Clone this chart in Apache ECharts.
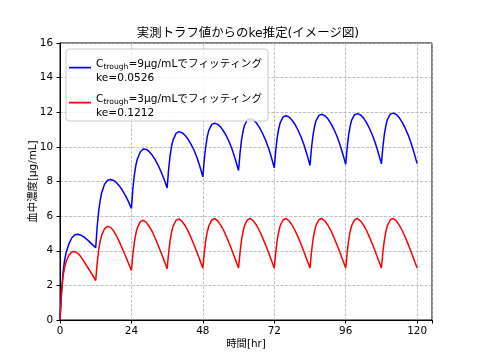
<!DOCTYPE html>
<html>
<head>
<meta charset="utf-8">
<script src="https://cdn.jsdelivr.net/npm/echarts@6/dist/echarts.min.js"></script>
<style>html,body{margin:0;padding:0;background:#fff;}#c{width:480px;height:360px;}</style>
</head>
<body>
<div id="c"></div>
<script>
// hours after each dose at which the concentrations below were read
var offsets = [0, 0.5, 1, 1.5, 2, 3, 4, 5, 6, 7, 8, 9, 10, 11];
var doseTimes = [0, 12, 24, 36, 48, 60, 72, 84, 96, 108];
var endTime = 120;
var xTicks = [0, 24, 48, 72, 96, 120];

// Ctrough = 9 ug/mL, ke = 0.0526 (blue)
var blueConc = [
  [0, 1.6, 2.7, 3.4, 3.85, 4.4, 4.75, 4.92, 4.95, 4.9, 4.8, 4.66, 4.5, 4.34],
  [4.17, 5.4, 6.3, 6.9, 7.35, 7.85, 8.07, 8.12, 8.06, 7.93, 7.73, 7.48, 7.18, 6.84],
  [6.45, 7.6, 8.4, 8.95, 9.3, 9.72, 9.88, 9.85, 9.72, 9.52, 9.25, 8.93, 8.55, 8.12],
  [7.63, 8.7, 9.5, 10.05, 10.4, 10.78, 10.88, 10.82, 10.67, 10.45, 10.16, 9.82, 9.4, 8.87],
  [8.27, 9.3, 10.05, 10.6, 10.95, 11.3, 11.36, 11.3, 11.14, 10.9, 10.6, 10.23, 9.78, 9.23],
  [8.64, 9.65, 10.4, 10.9, 11.25, 11.57, 11.63, 11.56, 11.38, 11.13, 10.8, 10.42, 9.97, 9.41],
  [8.79, 9.8, 10.55, 11.05, 11.4, 11.73, 11.8, 11.72, 11.54, 11.29, 10.96, 10.57, 10.11, 9.55],
  [8.93, 9.92, 10.65, 11.15, 11.5, 11.82, 11.88, 11.8, 11.62, 11.36, 11.03, 10.64, 10.17, 9.6],
  [8.99, 9.97, 10.7, 11.2, 11.55, 11.86, 11.92, 11.84, 11.66, 11.4, 11.06, 10.67, 10.2, 9.63],
  [9.02, 10.0, 10.73, 11.23, 11.58, 11.89, 11.95, 11.87, 11.69, 11.42, 11.08, 10.68, 10.21, 9.64]
];
var blueEnd = 9.03;

// Ctrough = 3 ug/mL, ke = 0.1212 (red)
var redConc = [
  [0, 1.5, 2.5, 3.0, 3.35, 3.75, 3.93, 3.95, 3.85, 3.65, 3.4, 3.12, 2.85, 2.57],
  [2.28, 3.3, 4.05, 4.55, 4.9, 5.28, 5.41, 5.35, 5.15, 4.85, 4.5, 4.1, 3.7, 3.28],
  [2.86, 3.8, 4.5, 5.0, 5.33, 5.68, 5.76, 5.64, 5.4, 5.1, 4.72, 4.3, 3.87, 3.42],
  [2.96, 3.88, 4.58, 5.08, 5.42, 5.76, 5.84, 5.7, 5.46, 5.15, 4.77, 4.35, 3.92, 3.46],
  [3.0, 3.92, 4.62, 5.1, 5.44, 5.78, 5.85, 5.72, 5.48, 5.17, 4.79, 4.37, 3.93, 3.47],
  [3.0, 3.92, 4.62, 5.1, 5.45, 5.78, 5.86, 5.72, 5.48, 5.17, 4.79, 4.37, 3.93, 3.47],
  [3.0, 3.92, 4.62, 5.1, 5.45, 5.79, 5.86, 5.72, 5.48, 5.17, 4.79, 4.37, 3.93, 3.47],
  [3.0, 3.92, 4.62, 5.1, 5.45, 5.79, 5.86, 5.72, 5.48, 5.17, 4.79, 4.37, 3.93, 3.47],
  [3.0, 3.92, 4.62, 5.1, 5.45, 5.79, 5.86, 5.72, 5.48, 5.17, 4.79, 4.37, 3.93, 3.47],
  [3.0, 3.92, 4.62, 5.1, 5.45, 5.79, 5.86, 5.72, 5.48, 5.17, 4.79, 4.37, 3.93, 3.47]
];
var redEnd = 3.0;

var titleText = '実測トラフ値からのke推定(イメージ図)';
var xName = '時間[hr]';
var yName = '血中濃度[μg/mL]';
var blueName = 'Ctrough=9μg/mLでフィッティング ke=0.0526';
var redName = 'Ctrough=3μg/mLでフィッティング ke=0.1212';
var blueLabel = '{n|C}{s|trough}{n|=9μg/mLでフィッティング}\n{n|ke=0.0526}';
var redLabel = '{n|C}{s|trough}{n|=3μg/mLでフィッティング}\n{n|ke=0.1212}';

function buildPairs(conc, endVal) {
  var out = [];
  for (var i = 0; i < doseTimes.length; i++) {
    for (var j = 0; j < offsets.length; j++) {
      out.push([doseTimes[i] + offsets[j], conc[i][j]]);
    }
  }
  out.push([endTime, endVal]);
  return out;
}

// legend handle: a thin line drawn a little above the middle of a 22x28 box
var handleIcon = 'path://M0,0L22,0L22,0Z M0,9.8L22,9.8L22,11.4L0,11.4Z M0,28L22,28L22,28Z';

var FONT = '"DejaVu Sans", "Noto Sans CJK JP", sans-serif';
var chart = echarts.init(document.getElementById('c'), null, {renderer: 'canvas'});
chart.setOption({
  animation: false,
  backgroundColor: '#fff',
  title: {
    text: titleText,
    left: 243, top: 23, textAlign: 'center',
    textStyle: {fontFamily: FONT, fontSize: 12.4, fontWeight: 'normal', color: '#000'}
  },
  grid: {left: 60, right: 48, top: 43, bottom: 40, show: true, borderColor: '#000', borderWidth: 1, containLabel: false},
  legend: {
    orient: 'vertical', left: 66, top: 49,
    padding: [8, 6, 1, 3], itemGap: 7,
    backgroundColor: 'rgba(255,255,255,0.8)', borderColor: '#cccccc', borderWidth: 1, borderRadius: 3,
    icon: handleIcon, itemWidth: 22, itemHeight: 28,
    itemStyle: {borderWidth: 0},
    data: [blueName, redName],
    formatter: function (name) { return name === blueName ? blueLabel : redLabel; },
    textStyle: {
      fontFamily: FONT, color: '#000',
      rich: {
        n: {fontFamily: FONT, fontSize: 10.6, lineHeight: 14, color: '#000'},
        s: {fontFamily: FONT, fontSize: 7.6, lineHeight: 14, verticalAlign: 'bottom', color: '#000'}
      }
    }
  },
  xAxis: {
    type: 'value', min: 0, max: 125, interval: 24,
    name: xName, nameLocation: 'middle', nameGap: 19, nameMoveOverlap: false,
    nameTextStyle: {fontFamily: FONT, fontSize: 10.4, color: '#000'},
    axisLine: {show: true, lineStyle: {color: '#000', width: 1}},
    axisTick: {show: true, inside: false, length: 3.5, lineStyle: {color: '#000'}},
    axisLabel: {
      fontFamily: FONT, fontSize: 10.4, color: '#000', margin: 6,
      formatter: function (v) { return xTicks.indexOf(v) >= 0 ? String(v) : ''; }
    },
    splitLine: {show: true, lineStyle: {color: '#b0b0b0', width: 0.8, type: [3, 1.5]}}
  },
  yAxis: {
    type: 'value', min: 0, max: 16, interval: 2,
    name: yName, nameLocation: 'middle', nameGap: 22, nameRotate: 90, nameMoveOverlap: false,
    nameTextStyle: {fontFamily: FONT, fontSize: 10.4, color: '#000'},
    axisLine: {show: true, lineStyle: {color: '#000', width: 1}},
    axisTick: {show: true, inside: false, length: 3.5, lineStyle: {color: '#000'}},
    axisLabel: {fontFamily: FONT, fontSize: 10.4, color: '#000', margin: 7},
    splitLine: {show: true, lineStyle: {color: '#b0b0b0', width: 0.8, type: [3, 1.5]}}
  },
  series: [
    {name: blueName, type: 'line', data: buildPairs(blueConc, blueEnd), showSymbol: false, symbol: 'none',
     lineStyle: {color: '#0000ff', width: 1.5}, itemStyle: {color: '#0000ff'}},
    {name: redName, type: 'line', data: buildPairs(redConc, redEnd), showSymbol: false, symbol: 'none',
     lineStyle: {color: '#ff0000', width: 1.5}, itemStyle: {color: '#ff0000'}}
  ]
});
</script>
</body>
</html>
